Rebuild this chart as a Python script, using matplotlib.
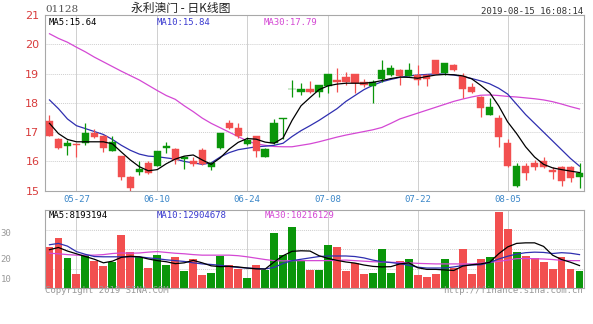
import matplotlib
matplotlib.use("Agg")
import matplotlib.pyplot as plt
import numpy as np

# trading days shown (HK), 2019-05-22 .. 2019-08-15
dates = ["05-22", "05-23", "05-24", "05-27", "05-28", "05-29", "05-30", "05-31", "06-03", "06-04",
         "06-05", "06-06", "06-10", "06-11", "06-12", "06-13", "06-14", "06-17", "06-18", "06-19",
         "06-20", "06-21", "06-24", "06-25", "06-26", "06-27", "06-28", "07-02", "07-03", "07-04",
         "07-05", "07-08", "07-09", "07-10", "07-11", "07-12", "07-15", "07-16", "07-17", "07-18",
         "07-19", "07-22", "07-23", "07-24", "07-25", "07-26", "07-29", "07-30", "07-31", "08-01",
         "08-02", "08-05", "08-06", "08-07", "08-08", "08-09", "08-12", "08-13", "08-14", "08-15"]
tick_dates = ["05-27", "06-10", "06-24", "07-08", "07-22", "08-05"]

opens = [17.38, 16.77, 16.51, 16.60, 16.62, 16.96, 16.88, 16.36, 16.19, 15.48,
         15.63, 15.96, 15.85, 16.47, 16.43, 16.07, 16.01, 16.40, 15.80, 16.45,
         17.30, 17.15, 16.58, 16.86, 16.16, 16.62, 17.46, 18.47, 18.38, 18.47,
         18.38, 18.56, 18.78, 18.88, 18.98, 18.72, 18.58, 18.80, 18.95, 19.12,
         18.92, 18.95, 18.95, 19.46, 19.03, 19.29, 18.92, 18.55, 18.21, 17.59,
         17.47, 16.64, 15.16, 15.85, 15.96, 16.00, 15.72, 15.82, 15.80, 15.46]
highs = [17.58, 16.81, 16.73, 16.62, 17.30, 17.10, 16.90, 16.87, 16.20, 15.50,
         16.00, 16.00, 16.37, 16.65, 16.46, 16.20, 16.15, 16.45, 15.97, 16.97,
         17.42, 17.30, 16.85, 16.88, 16.46, 17.45, 17.47, 18.78, 18.67, 18.76,
         18.62, 18.99, 19.18, 19.05, 19.00, 18.80, 18.78, 19.46, 19.29, 19.14,
         19.37, 19.29, 18.97, 19.48, 19.37, 19.32, 19.01, 18.69, 18.25, 18.15,
         17.59, 16.75, 15.93, 15.93, 16.05, 16.16, 15.82, 15.85, 15.85, 15.94]
lows = [16.88, 16.42, 16.22, 16.16, 16.56, 16.80, 16.32, 16.34, 15.37, 14.97,
        15.55, 15.58, 15.84, 16.30, 15.90, 15.75, 15.83, 15.88, 15.72, 16.44,
        17.10, 16.79, 16.56, 16.16, 16.14, 16.60, 16.78, 18.20, 18.27, 18.35,
        18.21, 18.35, 18.38, 18.62, 18.35, 18.55, 17.98, 18.72, 18.90, 18.61,
        18.90, 18.60, 18.58, 18.97, 18.95, 19.08, 18.15, 18.35, 17.53, 17.57,
        16.50, 15.82, 15.14, 15.37, 15.70, 15.78, 15.40, 15.16, 15.30, 15.08]
closes = [16.88, 16.45, 16.64, 16.56, 16.96, 16.82, 16.47, 16.67, 15.48, 15.10,
          15.75, 15.60, 16.36, 16.53, 16.06, 16.16, 15.92, 15.90, 15.94, 16.96,
          17.15, 16.88, 16.74, 16.35, 16.44, 17.30, 17.47, 18.48, 18.47, 18.37,
          18.61, 18.98, 18.72, 18.71, 18.67, 18.60, 18.70, 19.12, 19.18, 18.90,
          19.12, 18.78, 18.80, 18.99, 19.35, 19.12, 18.46, 18.38, 17.81, 17.85,
          16.85, 15.84, 15.84, 15.62, 15.82, 15.82, 15.64, 15.34, 15.42, 15.62]

# moving averages as drawn on the chart
ma5 = [17.30, 16.95, 16.75, 16.67, 16.67, 16.67, 16.67, 16.60, 16.32, 16.05,
       15.82, 15.68, 15.72, 15.92, 16.08, 16.18, 16.22, 16.05, 15.90, 16.12,
       16.42, 16.65, 16.78, 16.76, 16.66, 16.62, 16.80, 17.40, 17.90, 18.18,
       18.45, 18.58, 18.64, 18.67, 18.67, 18.67, 18.70, 18.76, 18.83, 18.88,
       18.87, 18.84, 18.90, 18.95, 18.97, 18.96, 18.92, 18.82, 18.60, 18.35,
       17.90, 17.35, 16.95, 16.50, 16.15, 15.90, 15.78, 15.72, 15.67, 15.62]
ma10 = [18.10, 17.80, 17.45, 17.22, 17.12, 17.02, 16.92, 16.75, 16.55, 16.38,
        16.25, 16.18, 16.16, 16.12, 16.08, 16.00, 15.95, 15.90, 15.95, 16.15,
        16.30, 16.40, 16.45, 16.50, 16.52, 16.55, 16.62, 16.85, 17.05, 17.22,
        17.40, 17.60, 17.80, 18.05, 18.25, 18.45, 18.60, 18.72, 18.80, 18.87,
        18.92, 18.95, 18.97, 18.99, 18.98, 18.95, 18.90, 18.83, 18.75, 18.65,
        18.50, 18.30, 17.95, 17.60, 17.30, 17.00, 16.70, 16.40, 16.10, 15.84]
ma30 = [20.36, 20.20, 20.07, 19.90, 19.74, 19.56, 19.40, 19.24, 19.08, 18.93,
        18.78, 18.60, 18.42, 18.25, 18.12, 17.90, 17.70, 17.48, 17.30, 17.15,
        17.00, 16.85, 16.70, 16.60, 16.55, 16.51, 16.50, 16.50, 16.55, 16.60,
        16.67, 16.75, 16.83, 16.90, 16.96, 17.02, 17.08, 17.16, 17.30, 17.45,
        17.55, 17.65, 17.75, 17.85, 17.95, 18.05, 18.13, 18.20, 18.26, 18.27,
        18.25, 18.22, 18.20, 18.17, 18.14, 18.10, 18.04, 17.96, 17.87, 17.79]

# volume, millions of shares
volume = [15.1, 18.4, 11.1, 5.0, 12.0, 10.0, 8.0, 9.6, 19.3, 13.0,
          11.4, 7.2, 12.0, 8.5, 11.4, 6.3, 10.5, 4.9, 5.4, 11.7,
          8.3, 6.8, 3.6, 8.4, 6.6, 20.0, 12.0, 22.4, 9.9, 6.6,
          6.6, 15.7, 14.9, 6.3, 9.2, 5.0, 5.6, 14.1, 5.6, 9.9,
          10.5, 4.9, 4.0, 5.2, 10.5, 7.4, 14.1, 5.2, 10.5, 11.4,
          27.6, 21.5, 13.1, 11.7, 11.1, 9.6, 6.9, 11.4, 6.9, 6.3]
vol_ma5 = [14.0, 14.8, 13.5, 12.5, 11.5, 10.5, 9.2, 9.8, 11.2, 11.6,
           11.4, 10.6, 10.0, 9.6, 8.9, 9.2, 10.1, 9.2, 8.1, 7.8,
           7.9, 7.7, 7.3, 7.0, 6.9, 9.5, 11.8, 13.4, 13.6, 13.5,
           11.8, 10.8, 10.1, 9.5, 9.1, 8.4, 7.9, 7.7, 7.8, 8.8,
           9.2, 7.4, 6.8, 6.8, 6.6, 6.4, 8.0, 8.5, 8.8, 9.4,
           12.5, 15.0, 16.3, 16.5, 16.5, 15.2, 12.0, 10.4, 9.4, 8.2]
vol_ma10 = [15.8, 16.3, 15.3, 13.3, 12.3, 11.5, 11.4, 11.4, 11.4, 11.4,
            11.4, 11.0, 10.7, 10.3, 10.0, 9.7, 9.2, 8.8, 8.6, 8.3,
            7.9, 7.5, 7.3, 7.1, 7.0, 7.5, 9.0, 10.0, 10.5, 11.0,
            11.5, 11.7, 11.7, 11.7, 11.5, 11.0, 10.2, 9.6, 9.3, 8.9,
            8.3, 7.6, 7.3, 7.3, 7.3, 7.7, 8.2, 8.4, 8.5, 9.3,
            10.6, 11.6, 12.4, 12.9, 13.1, 13.0, 12.6, 12.9, 12.7, 12.2]
vol_ma30 = [12.7, 12.5, 12.2, 12.0, 12.0, 12.0, 12.2, 12.6, 12.8, 12.7,
            12.8, 13.1, 13.3, 13.0, 12.7, 12.5, 12.2, 12.0, 12.0, 12.0,
            12.0, 11.8, 11.4, 10.9, 10.4, 10.0, 9.9, 10.0, 10.0, 10.0,
            10.0, 10.0, 10.1, 10.2, 10.0, 9.8, 9.6, 9.5, 9.4, 9.3,
            9.2, 9.0, 8.9, 8.8, 8.8, 8.8, 8.8, 8.8, 9.0, 9.4,
            9.7, 10.2, 10.7, 10.8, 10.7, 10.6, 10.4, 10.1, 10.0, 10.0]

RED = "#f24f4f"
GREEN = "#0a960a"
C5, C10, C30 = "#000000", "#2f2fb0", "#d448d4"
GRID = "#cfcfcf"
mono = "DejaVu Sans Mono"
fs = 6.5

x = np.arange(len(dates))
o, h, l, c = map(np.array, (opens, highs, lows, closes))
up = c >= o
cols = np.where(up, GREEN, RED)

fig = plt.figure(figsize=(5.93, 3.24), dpi=100)
W, H = 593.0, 324.0
ax = fig.add_axes([45 / W, 1 - 190.7 / H, 539 / W, 175.7 / H])
axv = fig.add_axes([45 / W, 1 - 288 / H, 539 / W, 78 / H])

tick_idx = [dates.index(d) for d in tick_dates]

for a in (ax, axv):
    a.set_xlim(-0.5, len(dates) - 0.5)
    for s in a.spines.values():
        s.set_color("#a8a8a8")
        s.set_linewidth(0.8)
    for t in tick_idx:
        a.axvline(t, color=GRID, lw=0.7, zorder=0)

# price panel
ax.set_ylim(15, 21)
for yv in range(16, 21):
    ax.axhline(yv, color=GRID, lw=0.7, ls=(0, (1, 1)), zorder=0)
ax.plot(x, ma30, color=C30, lw=0.9, zorder=2)
ax.plot(x, ma10, color=C10, lw=0.9, zorder=2)
body_lo = np.minimum(o, c)
body_h = np.maximum(np.abs(c - o), 0.02)
ax.vlines(x, l, h, colors=cols, lw=0.9, zorder=3)
ax.bar(x, body_h, bottom=body_lo, width=0.8, color=cols, edgecolor=cols, lw=0.3, zorder=4)
ax.plot(x, ma5, color=C5, lw=0.9, zorder=5)

ax.set_yticks(range(15, 22))
ax.set_yticklabels([str(v) for v in range(15, 22)], color="#d83c3c", fontsize=8)
ax.set_xticks(tick_idx)
ax.set_xticklabels(tick_dates, color="#3a86c8", fontsize=fs, family=mono)
ax.tick_params(length=0, pad=3)
ax.tick_params(axis="y", pad=4)

ax.text(0.006, 0.985, "MA5:15.64", transform=ax.transAxes, va="top",
        fontsize=fs, family=mono, color=C5)
ax.text(0.208, 0.985, "MA10:15.84", transform=ax.transAxes, va="top",
        fontsize=fs, family=mono, color="#3a3ad0")
ax.text(0.406, 0.985, "MA30:17.79", transform=ax.transAxes, va="top",
        fontsize=fs, family=mono, color=C30)

# volume panel
axv.set_ylim(0, 28.5)
for yv in (7.1, 14.2, 21.3):
    axv.axhline(yv, color=GRID, lw=0.7, ls=(0, (1, 1)), zorder=0)
axv.bar(x, volume, width=0.88, color=cols, lw=0, zorder=2)
axv.plot(x, vol_ma30, color=C30, lw=0.9, zorder=3)
axv.plot(x, vol_ma10, color=C10, lw=0.9, zorder=3)
axv.plot(x, vol_ma5, color=C5, lw=0.9, zorder=3)
axv.set_xticks([])
axv.set_yticks([])
axv.text(0.006, 0.985, "MA5:8193194", transform=axv.transAxes, va="top",
         fontsize=fs, family=mono, color=C5)
axv.text(0.208, 0.985, "MA10:12904678", transform=axv.transAxes, va="top",
         fontsize=fs, family=mono, color="#3a3ad0")
axv.text(0.408, 0.985, "MA30:10216129", transform=axv.transAxes, va="top",
         fontsize=fs, family=mono, color=C30)

# header and footer texts
fig.text(45 / W, 1 - 9.5 / H, "01128", fontsize=7.5, color="#555555", family="DejaVu Serif", va="center")
fig.text(181 / W, 1 - 8.5 / H, "永利澳门 - 日K线图", fontsize=8.5, color="#222222",
         family=["Noto Sans CJK SC", "DejaVu Sans"], ha="center", va="center")
fig.text(583 / W, 1 - 11 / H, "2019-08-15 16:08:14", fontsize=fs, family=mono,
         color="#333333", ha="right", va="center")
fig.text(45 / W, 1 - 290.5 / H, "Copyright 2019 SINA.COM", fontsize=fs, family=mono,
         color="#999999", va="center")
fig.text(583 / W, 1 - 290.5 / H, "http://finance.sina.com.cn", fontsize=fs, family=mono,
         color="#999999", ha="right", va="center")
for lab, yy in (("30", 233), ("20", 260), ("10", 279)):
    fig.text(0.5 / W, 1 - yy / H, lab, fontsize=fs, family=mono, color="#999999", va="center")

fig.savefig("out.png", dpi=100)
